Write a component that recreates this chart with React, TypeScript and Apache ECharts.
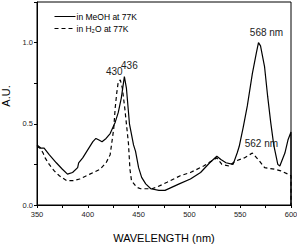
import React, { useEffect, useRef } from "react";
import * as echarts from "echarts";

const meohWl = [350, 354, 357, 362, 369, 375, 380, 385, 390, 391, 395, 399, 405, 408, 411, 414, 418, 422, 427, 430, 433, 436, 438, 441, 445, 447, 450, 453, 457, 462, 470, 476, 483, 490, 501, 511, 520, 527, 531, 536, 543, 547, 549, 553, 557, 562, 566, 568, 570, 574, 577, 580, 583, 587, 589, 594, 597, 600, 600];
const meohAbs = [0.37, 0.35, 0.35, 0.31, 0.26, 0.22, 0.19, 0.2, 0.23, 0.26, 0.29, 0.33, 0.39, 0.41, 0.4, 0.39, 0.41, 0.44, 0.51, 0.57, 0.66, 0.79, 0.72, 0.5, 0.37, 0.33, 0.23, 0.17, 0.13, 0.1, 0.09, 0.09, 0.11, 0.13, 0.16, 0.2, 0.26, 0.3, 0.28, 0.26, 0.25, 0.32, 0.36, 0.48, 0.61, 0.81, 0.94, 1.0, 0.98, 0.85, 0.67, 0.51, 0.37, 0.25, 0.24, 0.32, 0.4, 0.45, 0];

const waterWl = [350, 353, 356, 358, 362, 367, 372, 379, 386, 392, 402, 412, 418, 422, 424, 425.5, 427, 428.5, 430, 432, 434, 436.5, 439, 440, 441.5, 443, 448, 452, 463, 468, 478, 491, 501, 514, 524, 527, 532, 539, 545, 554, 562, 569, 574, 584, 590, 597, 600, 600];
const waterAbs = [0.36, 0.35, 0.32, 0.29, 0.25, 0.21, 0.18, 0.15, 0.15, 0.16, 0.19, 0.22, 0.26, 0.31, 0.4, 0.47, 0.6, 0.69, 0.76, 0.77, 0.72, 0.59, 0.44, 0.38, 0.22, 0.15, 0.11, 0.1, 0.1, 0.11, 0.14, 0.18, 0.2, 0.24, 0.28, 0.29, 0.25, 0.24, 0.27, 0.29, 0.32, 0.27, 0.23, 0.22, 0.21, 0.19, 0.18, 0];

const seriesNames = ["in MeOH at 77K", "in H\u2082O at 77K"];
const xTitle = "WAVELENGTH (nm)";
const yTitle = "A.U.";
const xLabels = [350, 400, 450, 500, 550, 600];
const yLabels = [0, 0.5, 1.0];

const FONT = "'Liberation Sans', Arial, sans-serif";

export default function App() {
  const ref = useRef<HTMLDivElement>(null);
  useEffect(() => {
    const chart = echarts.init(ref.current!, null, { renderer: "svg" });
    const meoh = meohWl.map((w, i) => [w, meohAbs[i]]);
    const water = waterWl.map((w, i) => [w, waterAbs[i]]);
    const peakLabel = (coord: number[], text: string, offset: number[]) => ({
      coord,
      symbol: "circle",
      symbolSize: 0.1,
      itemStyle: { color: "rgba(0,0,0,0)" },
      label: {
        show: true,
        formatter: text,
        position: "inside",
        offset,
        color: "#222",
        fontSize: 10,
        fontFamily: FONT,
      },
    });
    chart.setOption({
      animation: false,
      backgroundColor: "#fff",
      grid: {
        left: 37,
        right: 6,
        top: 2,
        bottom: 41,
        containLabel: false,
        outerBoundsMode: "none",
        show: true,
        borderColor: "#000",
        borderWidth: 1,
        backgroundColor: "transparent",
      },
      legend: {
        orient: "vertical",
        left: 49,
        top: 7,
        itemWidth: 21,
        itemHeight: 8,
        itemGap: 3,
        itemStyle: { opacity: 0 },
        lineStyle: { width: 1 },
        textStyle: { fontSize: 8.5, fontFamily: FONT, color: "#000", padding: [0, 0, 0, -4] },
        data: seriesNames,
      },
      xAxis: {
        type: "value",
        min: 350,
        max: 600,
        interval: 25,
        name: xTitle,
        nameLocation: "middle",
        nameGap: 27,
        nameTextStyle: { fontSize: 11, fontFamily: FONT, color: "#000" },
        axisLine: { lineStyle: { color: "#000", width: 1 } },
        axisTick: { show: true, length: 3, lineStyle: { color: "#000" } },
        axisLabel: {
          fontSize: 7.5,
          fontFamily: FONT,
          color: "#222",
          margin: 5,
          formatter: (v: number) => (xLabels.indexOf(v) >= 0 ? String(v) : ""),
        },
        splitLine: { show: false },
      },
      yAxis: {
        type: "value",
        min: 0,
        max: 1.25,
        interval: 0.25,
        name: yTitle,
        nameLocation: "middle",
        nameGap: 24,
        nameTextStyle: { fontSize: 11, fontFamily: FONT, color: "#000", padding: [0, 0, 0, 15] },
        axisLine: { show: true, lineStyle: { color: "#000", width: 1 } },
        axisTick: { show: true, length: 3, lineStyle: { color: "#000" } },
        axisLabel: {
          fontSize: 7.5,
          fontFamily: FONT,
          color: "#222",
          margin: 4,
          formatter: (v: number) =>
            yLabels.some((y) => Math.abs(y - v) < 1e-6) ? v.toFixed(1) : "",
        },
        splitLine: { show: false },
      },
      series: [
        {
          name: seriesNames[0],
          type: "line",
          data: meoh,
          symbol: "none",
          lineStyle: { color: "#000", width: 1.2, type: "solid" },
          itemStyle: { color: "#000" },
          markPoint: {
            data: [
              peakLabel([436, 0.79], "436", [5, -11]),
              peakLabel([568, 1.0], "568 nm", [8, -10]),
            ],
          },
        },
        {
          name: seriesNames[1],
          type: "line",
          data: water,
          symbol: "none",
          lineStyle: { color: "#000", width: 1.2, type: [4, 3] },
          itemStyle: { color: "#000" },
          markPoint: {
            data: [
              peakLabel([431, 0.77], "430", [-5, -8]),
              peakLabel([562, 0.32], "562 nm", [9, -10]),
            ],
          },
        },
      ],
    });
    return () => chart.dispose();
  }, []);
  return (
    <div
      ref={ref}
      style={{ position: "fixed", left: 0, top: 0, width: 297, height: 246 }}
    />
  );
}
